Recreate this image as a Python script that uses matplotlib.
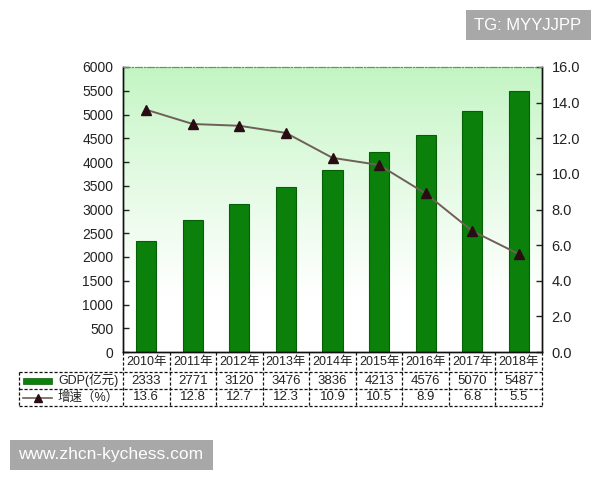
import numpy as np
import matplotlib
matplotlib.use("Agg")
import matplotlib.pyplot as plt
from matplotlib.patches import Rectangle
from matplotlib.lines import Line2D

plt.rcParams['font.family'] = ['Liberation Sans', 'Noto Sans CJK SC', 'DejaVu Sans']

years = ["2010年", "2011年", "2012年", "2013年", "2014年", "2015年", "2016年", "2017年", "2018年"]
gdp = [2333, 2771, 3120, 3476, 3836, 4213, 4576, 5070, 5487]
growth = [13.6, 12.8, 12.7, 12.3, 10.9, 10.5, 8.9, 6.8, 5.5]
gdp_label = "GDP(亿元)"
growth_label = "增速（%）"
left_ticks = list(range(0, 6001, 500))
right_ticks = [0, 2, 4, 6, 8, 10, 12, 14, 16]

bar_color = "#0b800b"
bar_edge = "#056005"
line_color = "#6e6058"
marker_color = "#2a0d12"

fig = plt.figure(figsize=(6, 4.8), dpi=100)
W, H = 600, 480
L, R, T, B = 123, 542, 67, 352
ax = fig.add_axes([L / W, 1 - B / H, (R - L) / W, (B - T) / H])

# gradient background
grad = np.linspace(0, 1, 256).reshape(-1, 1)
top = np.array([0.76, 0.96, 0.76])
white = np.array([1.0, 1.0, 1.0])
t = np.clip(grad / 0.8, 0, 1) ** 0.85
img = top[None, None, :] * (1 - t[..., None]) + white[None, None, :] * t[..., None]
img = img.reshape(256, 1, 3)
ax.imshow(img, extent=[0, 1, 0, 1], transform=ax.transAxes, aspect='auto', zorder=0, origin='upper')

x = np.arange(len(years))
ax.bar(x, gdp, width=0.43, color=bar_color, edgecolor=bar_edge, linewidth=0.8, zorder=2)
ax.set_xlim(-0.5, len(years) - 0.5)
ax.set_ylim(0, 6000)
ax.set_yticks(left_ticks)
ax.set_yticklabels([str(v) for v in left_ticks])
ax.set_xticks([])
ax.tick_params(axis='y', direction='in', length=4, width=1, pad=7, labelsize=10, colors='#222222')

ax2 = ax.twinx()
ax2.plot(x, growth, color=line_color, linewidth=1.4, marker='^', markersize=6.5,
         markerfacecolor=marker_color, markeredgecolor=marker_color, zorder=3)
ax2.set_ylim(0, 16)
ax2.set_yticks(right_ticks)
ax2.set_yticklabels([f"{v:.1f}" for v in right_ticks])
ax2.tick_params(axis='y', direction='in', length=4, width=1, pad=7, labelsize=10.5, colors='#222222')

for a in (ax, ax2):
    a.spines['top'].set_linestyle((0, (6, 2, 1, 2)))
    a.spines['top'].set_color('#5a9a5a')
    a.spines['top'].set_linewidth(0.8)
    for s in ('left', 'right', 'bottom'):
        a.spines[s].set_color('#111111')
        a.spines[s].set_linewidth(1.0)

# table below the axes
trans = ax.get_xaxis_transform()
axh = B - T
r0, r1, r2, r3 = 0.0, -20 / axh, -37 / axh, -54 / axh
n = len(years)

def dx(pxv):
    return -0.5 + (pxv - L) / (R - L) * n

hdr_left = dx(19)
ls = dict(color='#111111', linewidth=0.9, linestyle=(0, (2.5, 1.5)), transform=trans, clip_on=False)
for i in range(n + 1):
    xb = i - 0.5
    ax.add_line(Line2D([xb, xb], [r0, r1], **ls))
    ax.add_line(Line2D([xb, xb], [r1, r3], **ls))
ax.add_line(Line2D([hdr_left, hdr_left], [r1, r3], **ls))
for yy in (r1, r2, r3):
    ax.add_line(Line2D([hdr_left, n - 0.5], [yy, yy], **ls))

tk = dict(transform=trans, ha='center', va='center', color='#222222', clip_on=False)
for i in range(n):
    ax.text(i, (r0 + r1) / 2, years[i], fontsize=9, **tk)
    ax.text(i, (r1 + r2) / 2, str(gdp[i]), fontsize=9.5, **tk)
    ax.text(i, (r2 + r3) / 2, f"{growth[i]:.1f}", fontsize=9.5, **tk)

# legend keys in header column
ax.add_patch(Rectangle((dx(23), (r1 + r2) / 2 - 3 / axh), dx(52) - dx(23), 6 / axh,
                       transform=trans, clip_on=False, facecolor=bar_color, edgecolor=bar_edge, linewidth=0.5))
ax.add_line(Line2D([dx(23), dx(52)], [(r2 + r3) / 2] * 2, color=line_color, linewidth=1.2,
                   transform=trans, clip_on=False))
ax.add_line(Line2D([dx(37.5)], [(r2 + r3) / 2], marker='^', markersize=6, color=marker_color,
                   transform=trans, clip_on=False))
ax.text(dx(58), (r1 + r2) / 2, gdp_label, transform=trans, ha='left', va='center', fontsize=9,
        color='#222222', clip_on=False)
ax.text(dx(58), (r2 + r3) / 2, growth_label, transform=trans, ha='left', va='center', fontsize=9,
        color='#222222', clip_on=False)

# watermark boxes
fig.patches.append(Rectangle((466 / W, 1 - 40 / H), 125 / W, 30 / H, transform=fig.transFigure,
                             facecolor='#a8a8a8', edgecolor='none'))
fig.text(528 / W, 1 - 25 / H, "TG: MYYJJPP", color='white', fontsize=12, ha='center', va='center')
fig.patches.append(Rectangle((10 / W, 1 - 470 / H), 203 / W, 30 / H, transform=fig.transFigure,
                             facecolor='#a8a8a8', edgecolor='none'))
fig.text(111 / W, 1 - 455 / H, "www.zhcn-kychess.com", color='white', fontsize=12.5, ha='center', va='center')

fig.savefig("out.png", dpi=100)
